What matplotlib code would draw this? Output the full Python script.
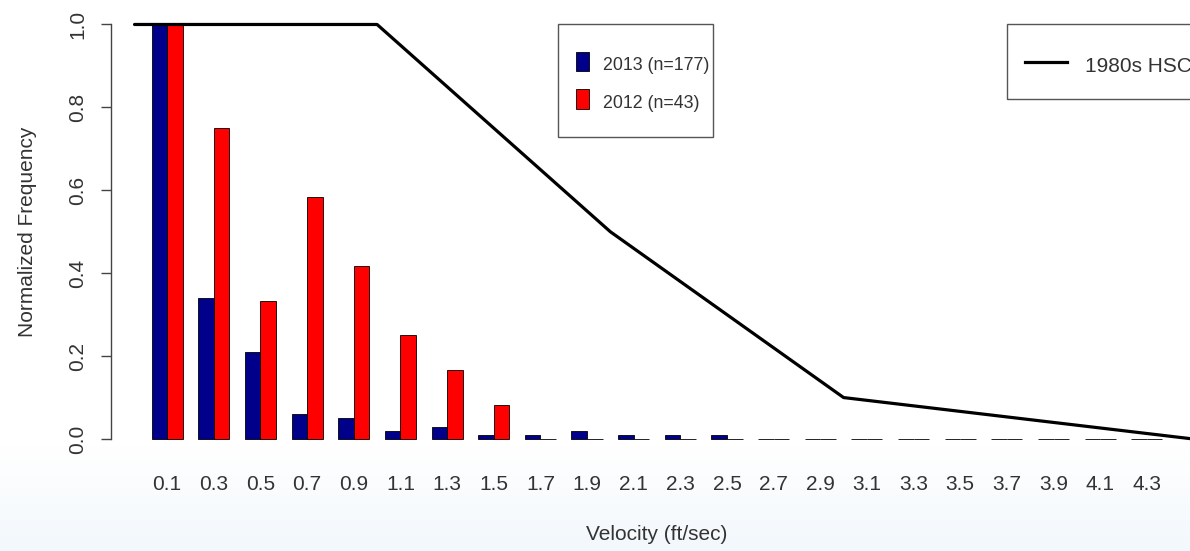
import numpy as np
import matplotlib
matplotlib.use("Agg")
import matplotlib.pyplot as plt
from matplotlib.patches import Rectangle
from matplotlib.lines import Line2D

plt.rcParams['font.family'] = 'Liberation Sans'

# velocity bins (ft/sec) and normalized frequencies per survey year
velocity_labels = ['0.1', '0.3', '0.5', '0.7', '0.9', '1.1', '1.3', '1.5', '1.7', '1.9', '2.1',
                   '2.3', '2.5', '2.7', '2.9', '3.1', '3.3', '3.5', '3.7', '3.9', '4.1', '4.3']
freq_2013 = [1.0, 0.34, 0.21, 0.06, 0.05, 0.02, 0.03, 0.01, 0.01, 0.02, 0.01,
             0.01, 0.01, 0, 0, 0, 0, 0, 0, 0, 0, 0]
freq_2012 = [1.0, 0.75, 0.333, 0.583, 0.417, 0.25, 0.167, 0.083, 0, 0, 0,
             0, 0, 0, 0, 0, 0, 0, 0, 0, 0, 0]

# 1980s habitat suitability curve
hsc_velocity = [-0.04, 1.0, 2.0, 3.0, 4.5]
hsc_value = [1.0, 1.0, 0.5, 0.1, 0.0]

legend_bars = ['2013 (n=177)', '2012 (n=43)']
legend_line = '1980s HSC'

W, H = 1190, 551
fig = plt.figure(figsize=(W / 100, H / 100), dpi=100)


def fx(px):
    return px / W


def fy(py):
    return 1 - py / H


# faint blue tint towards the bottom of the slide
bg = fig.add_axes([0, 0, 1, 1], zorder=0)
rows = np.arange(H)
w = np.clip((rows - 445) / (H - 445), 0, 1)[:, None, None]
top = np.array([1.0, 1.0, 1.0])
bot = np.array([0.95, 0.972, 0.99])
bg.imshow(top * (1 - w) + bot * w, aspect='auto', extent=[0, 1, 0, 1])
bg.axis('off')

# barplot layout: two bars per group, one unit gap between groups
n = len(velocity_labels)
left_edges = np.arange(n) * 3 + 1
x_2013 = left_edges + 0.5
x_2012 = left_edges + 1.5
centers = left_edges + 1.0


def vel_to_x(v):
    return centers[0] + (np.asarray(v) - 0.1) / 0.2 * 3


xlim = (-1.6, 68.6)
ax_left, ax_right = 111.2, 1202.8
ax_top, ax_bot = 7.9, 455.6
ax = fig.add_axes([fx(ax_left), fy(ax_bot), (ax_right - ax_left) / W, (ax_bot - ax_top) / H], zorder=1)
ax.patch.set_visible(False)

ax.bar(x_2013, freq_2013, width=1, color='#00008B', edgecolor='black', linewidth=0.6, zorder=2)
ax.bar(x_2012, freq_2012, width=1, color='#FF0000', edgecolor='black', linewidth=0.6, zorder=2)
ax.plot(vel_to_x(hsc_velocity), hsc_value, color='black', lw=2.3,
        solid_capstyle='round', solid_joinstyle='round', zorder=3, clip_on=False)

ax.set_xlim(*xlim)
ax.set_ylim(-0.04, 1.04)

for s in ['top', 'right', 'bottom']:
    ax.spines[s].set_visible(False)
ax.spines['left'].set_bounds(0, 1)
ax.spines['left'].set_color('#444444')
ax.spines['left'].set_linewidth(1.0)

ax.set_yticks([0, 0.2, 0.4, 0.6, 0.8, 1.0])
ax.set_yticklabels(['0.0', '0.2', '0.4', '0.6', '0.8', '1.0'])
ax.tick_params(axis='y', length=7.2, width=1.0, color='#444444', pad=10,
               labelsize=15, labelcolor='#333333', labelrotation=90)
for lbl in ax.get_yticklabels():
    lbl.set_va('center')

ax.set_xticks(centers)
ax.set_xticklabels(velocity_labels)
ax.tick_params(axis='x', length=0, pad=14, labelsize=15, labelcolor='#333333')

fig.text(fx((ax_left + ax_right) / 2), fy(540), 'Velocity (ft/sec)', ha='center', va='baseline',
         fontsize=15, color='#333333')
fig.text(fx(33), fy((ax_top + ax_bot) / 2), 'Normalized Frequency', rotation=90,
         rotation_mode='anchor', ha='center', va='baseline', fontsize=15, color='#333333')

# legend for the two survey years
fig.add_artist(Rectangle((fx(558.3), fy(136.7)), 155 / W, 112.7 / H, transform=fig.transFigure,
                         fill=False, edgecolor='#555555', lw=1.0))
for color, label, y0, base in [('#00008B', legend_bars[0], 51.7, 70.5),
                               ('#FF0000', legend_bars[1], 89.3, 107.5)]:
    fig.add_artist(Rectangle((fx(575.7), fy(y0 + 19.3)), 13.3 / W, 19.3 / H, transform=fig.transFigure,
                             facecolor=color, edgecolor='black', lw=0.6))
    fig.text(fx(603.3), fy(base), label, ha='left', va='baseline', fontsize=12.8, color='#333333')

# legend for the historical curve
fig.add_artist(Rectangle((fx(1006.7), fy(99.3)), 300 / W, 75.3 / H, transform=fig.transFigure,
                         fill=False, edgecolor='#555555', lw=1.0))
fig.add_artist(Line2D([fx(1025), fx(1067.3)], [fy(61.7), fy(61.7)], transform=fig.transFigure,
                      color='black', lw=2.3))
fig.text(fx(1085), fy(71.5), legend_line, ha='left', va='baseline', fontsize=15, color='#333333')

fig.savefig('out.png', dpi=100)
